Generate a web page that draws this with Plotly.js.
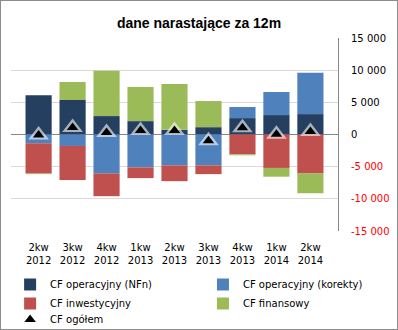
<!DOCTYPE html>
<html>
<head>
<meta charset="utf-8">
<script src="https://cdn.plot.ly/plotly-3.0.1.min.js"></script>
<style>
html,body{margin:0;padding:0;background:#fff;}
#chart{width:396px;height:328px;border:1px solid #8c8c8c;}
</style>
</head>
<body>
<div id="chart"></div>
<script>
const categories = ["2kw<br>2012","3kw<br>2012","4kw<br>2012","1kw<br>2013","2kw<br>2013","3kw<br>2013","4kw<br>2013","1kw<br>2014","2kw<br>2014"];
const cfOperNFn   = [6100, 5360, 2860, 2080,  720, 1140, 2550, 3020, 3170];
const cfOperKor   = [-1360,-1780,-6050,-5110,-4800,-4800, 1720, 3590, 6410];
const cfInwest    = [-4700,-5300,-3540,-1670,-2450,-1360,-3080,-5200,-6050];
const cfFinans    = [-100, 2800, 7030, 5310, 7140, 4060, -150,-1360,-3080];
const cfOgolem    = [-60,  1080,  300,  610,  610, -960, 1040,   50,  450];
const yTickVals = [15000,10000,5000,0,-5000,-10000,-15000];
const yTickText = ["15 000","10 000","5 000","0",
  "<span style='color:#ff0000'>-5 000</span>",
  "<span style='color:#ff0000'>-10 000</span>",
  "<span style='color:#ff0000'>-15 000</span>"];

const W = 396, H = 328;
const font = "DejaVu Sans, Verdana, sans-serif";
const traces = [
  {type:"bar", name:"CF operacyjny (NFn)", x:categories, y:cfOperNFn, marker:{color:"#243f60"}, legend:"legend"},
  {type:"bar", name:"CF operacyjny (korekty)", x:categories, y:cfOperKor, marker:{color:"#4f81bd"}, legend:"legend2"},
  {type:"bar", name:"CF inwestycyjny", x:categories, y:cfInwest, marker:{color:"#c0504d"}, legend:"legend"},
  {type:"bar", name:"CF finansowy", x:categories, y:cfFinans, marker:{color:"#9bbb59"}, legend:"legend2"},
  {type:"scatter", mode:"markers", name:"glow", showlegend:false, x:categories, y:cfOgolem,
   marker:{symbol:"triangle-up", size:18, color:"rgba(255,255,255,0.6)"}, hoverinfo:"skip"},
  {type:"scatter", mode:"markers", name:"CF ogółem", x:categories, y:cfOgolem,
   marker:{symbol:"triangle-up", size:10, color:"#000000"}, legend:"legend3"}
];
const legendBase = {orientation:"v", xanchor:"left", yanchor:"top",
  font:{family:font,size:10}, traceorder:"normal", itemwidth:30, bgcolor:"rgba(0,0,0,0)", borderwidth:0};
const layout = {
  width:W, height:H,
  margin:{l:0, r:0, t:0, b:0, pad:0, autoexpand:false},
  barmode:"relative", bargap:0.23,
  paper_bgcolor:"#ffffff", plot_bgcolor:"#ffffff",
  font:{family:font, size:10, color:"#000"},
  title:{text:"<b>dane narastające za 12m</b>", font:{family:"Liberation Sans, Arial, sans-serif", size:14, color:"#000"},
    x:0.5, xanchor:"center", xref:"container", yref:"container", y:1-22/H, yanchor:"middle"},
  xaxis:{type:"category", domain:[10/W, 337/W], showgrid:false, showline:false, zeroline:false, ticks:"",
    ticklabelstandoff:9, tickfont:{family:font,size:10}},
  yaxis:{side:"right", domain:[(H-230)/H, (H-37)/H], range:[-15000,15000], tickvals:yTickVals, ticktext:yTickText,
    showgrid:true, gridcolor:"#d9d9d9", gridwidth:1, zeroline:true, zerolinecolor:"#868686", zerolinewidth:1,
    showline:true, linecolor:"#868686", linewidth:1, ticks:"", ticklabelstandoff:10, tickfont:{family:font,size:10}},
  legend:Object.assign({}, legendBase, {x:0.023, y:1-269/H}),
  legend2:Object.assign({}, legendBase, {x:0.51, y:1-269/H}),
  legend3:Object.assign({}, legendBase, {x:0.023, y:1-304/H}),
  showlegend:true
};
Plotly.newPlot("chart", traces, layout, {displayModeBar:false, staticPlot:true});
</script>
</body>
</html>
